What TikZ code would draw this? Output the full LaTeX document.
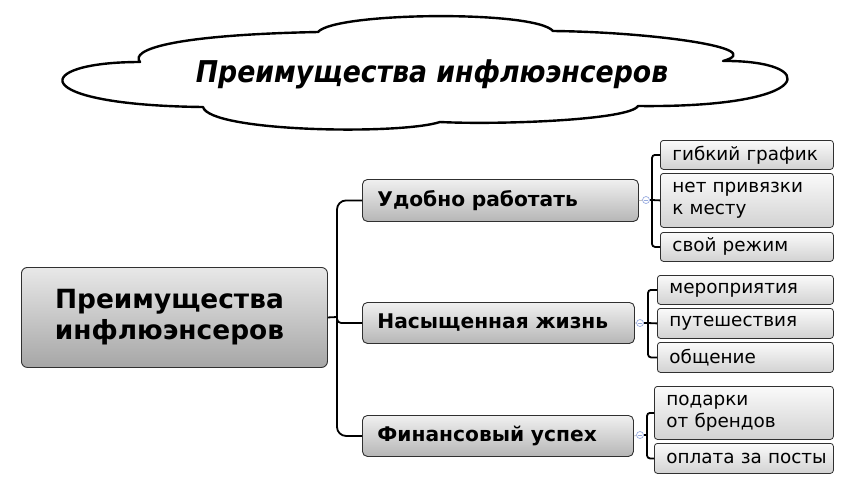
\documentclass[tikz,border=0pt]{standalone}
\usepackage{fontspec}
\setmainfont{DejaVu Sans}
\usetikzlibrary{shadings}
\definecolor{bordc}{HTML}{303030}
\definecolor{mtop}{HTML}{E8E8E8}
\definecolor{mbot}{HTML}{A6A6A6}
\definecolor{btop}{HTML}{F0F0F0}
\definecolor{bbot}{HTML}{B6B6B6}
\definecolor{ltop}{HTML}{FAFAFA}
\definecolor{lbot}{HTML}{D2D2D2}
\definecolor{markc}{HTML}{98ACE0}
\tikzset{
  mainbox/.style={draw=bordc, line width=0.9pt, rounded corners=6pt, top color=mtop, bottom color=mbot,
    anchor=north west, inner sep=0pt, align=center,
    font=\fontsize{26.4}{31}\selectfont\bfseries},
  branchbox/.style={draw=bordc, line width=0.9pt, rounded corners=5pt, top color=btop, bottom color=bbot,
    anchor=north west, inner xsep=15pt, inner ysep=0pt, align=left,
    font=\fontsize{20.2}{24}\selectfont\bfseries},
  leafbox/.style={draw=bordc, line width=0.8pt, rounded corners=3pt, top color=ltop, bottom color=lbot,
    anchor=north west, inner xsep=12pt, inner ysep=0pt, align=left,
    font=\fontsize{18.4}{22}\selectfont},
  conn/.style={draw=black, line width=1.8pt},
  thinconn/.style={draw=gray!70, line width=0.6pt},
  marker/.style={circle, draw=markc, fill=white, line width=0.7pt, minimum size=7pt, inner sep=0pt,
    path picture={\draw[markc, line width=0.6pt] ([xshift=-2pt]path picture bounding box.center) -- ([xshift=2pt]path picture bounding box.center);}},
  cloudline/.style={draw=black, line width=2.4pt, line join=round, fill=white}
}
\begin{document}
\begin{tikzpicture}[x=1pt, y=-1pt]
\useasboundingbox[fill=white] (0,0) rectangle (853,493);

% cloud
\draw[cloudline] (140,62)
  .. controls (130,50) and (170,35) .. (318,32)
  .. controls (335,12) and (535,10) .. (553,31)
  .. controls (650,32) and (770,48) .. (723,61)
  .. controls (820,60) and (820,108) .. (638,106)
  .. controls (630,120) and (500,125) .. (440,122)
  .. controls (400,135) and (210,132) .. (203,107)
  .. controls (25,105) and (30,62) .. cycle;
\node[font=\fontsize{30}{34}\selectfont\bfseries\itshape, inner sep=0pt] (title) at (432,74)
  {\scalebox{0.89}[1]{Преимущества инфлюэнсеров}};

% main node
\node[mainbox, minimum width=306pt, minimum height=100pt] (main) at (21,267)
  {Преимущества\hspace*{10pt}\\инфлюэнсеров\hspace*{10pt}};

% branch nodes
\node[branchbox, minimum width=276pt, text width=246pt, minimum height=42pt] (b1) at (362,179) {Удобно работать};
\node[branchbox, minimum width=272pt, text width=242pt, minimum height=41pt] (b2) at (362,302) {Насыщенная жизнь};
\node[branchbox, minimum width=271pt, text width=241pt, minimum height=41pt] (b3) at (362,415) {Финансовый успех};

% leaves
\node[leafbox, minimum width=173pt, text width=149pt, minimum height=29pt] (l11) at (660,140) {\mbox{гибкий график}};
\node[leafbox, minimum width=173pt, text width=149pt, minimum height=54pt] (l12) at (660,173) {нет привязки\\к месту};
\node[leafbox, minimum width=173pt, text width=149pt, minimum height=29pt] (l13) at (660,232) {свой режим};

\node[leafbox, minimum width=176pt, text width=152pt, minimum height=29pt] (l21) at (657,275) {мероприятия};
\node[leafbox, minimum width=176pt, text width=152pt, minimum height=30pt] (l22) at (657,308) {путешествия};
\node[leafbox, minimum width=176pt, text width=152pt, minimum height=30pt] (l23) at (657,342) {общение};

\node[leafbox, minimum width=179pt, text width=155pt, minimum height=53pt] (l31) at (654,386) {подарки\\от брендов};
\node[leafbox, minimum width=179pt, text width=155pt, minimum height=30pt] (l32) at (654,443) {\mbox{оплата за посты}};

% main connectors
\coordinate (j) at (337,317);
\draw[conn] (main.east) -- (j);
\draw[conn, rounded corners=9pt] (j) |- (b1.west);
\draw[conn, rounded corners=9pt] (j) |- (b3.west);
\draw[conn, rounded corners=4pt] (j) |- (b2.west);

% leaf connectors, branch 1
\node[marker] (m1) at (646,200) {};
\coordinate (t1) at (652,200);
\draw[thinconn] (b1.east) -- (m1);
\draw[conn] (m1) -- (t1);
\draw[conn, rounded corners=3pt] (t1) |- (l11.west);
\draw[conn, rounded corners=3pt] (t1) |- (l13.west);
\draw[conn] (t1) -- (l12.west);

% branch 2
\node[marker] (m2) at (640,323) {};
\coordinate (t2) at (648,323);
\draw[thinconn] (b2.east) -- (m2);
\draw[conn] (m2) -- (t2);
\draw[conn, rounded corners=3pt] (t2) |- (l21.west);
\draw[conn, rounded corners=3pt] (t2) |- (l23.west);
\draw[conn] (t2) -- (l22.west);

% branch 3
\node[marker] (m3) at (640,435) {};
\coordinate (t3) at (647,435);
\draw[thinconn] (b3.east) -- (m3);
\draw[conn] (m3) -- (t3);
\draw[conn, rounded corners=3pt] (t3) |- (l31.west);
\draw[conn, rounded corners=3pt] (t3) |- (l32.west);
\end{tikzpicture}
\end{document}
